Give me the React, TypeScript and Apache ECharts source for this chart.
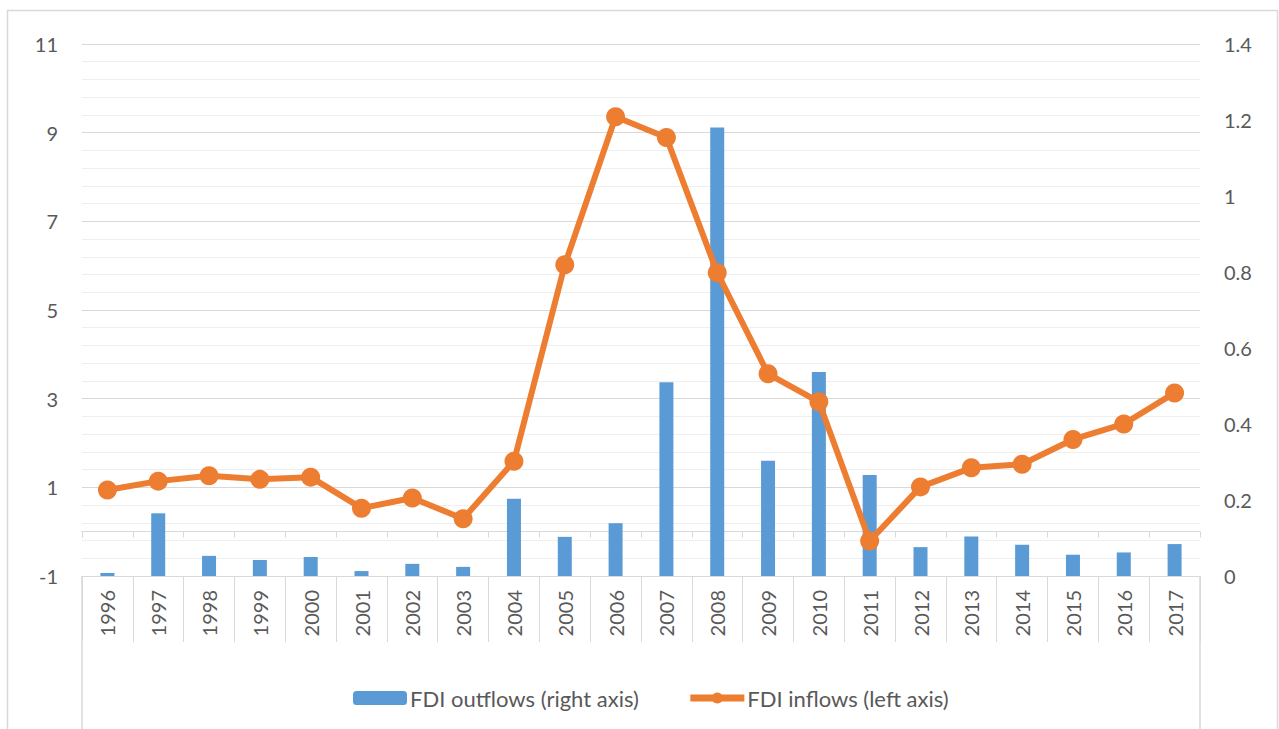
import React, { useEffect, useRef } from "react";
import * as echarts from "echarts";

const years = ["1996","1997","1998","1999","2000","2001","2002","2003","2004","2005","2006","2007","2008","2009","2010","2011","2012","2013","2014","2015","2016","2017"];
const outflows = [0.008,0.165,0.053,0.042,0.05,0.013,0.032,0.024,0.203,0.103,0.139,0.51,1.18,0.303,0.537,0.266,0.076,0.104,0.082,0.056,0.062,0.084];
const inflows = [0.94,1.14,1.26,1.18,1.23,0.53,0.76,0.29,1.59,6.02,9.36,8.89,5.84,3.56,2.93,-0.21,1.01,1.44,1.52,2.08,2.43,3.13];

const FONT = "Lato";
const TXT = "#595959";
const GRID = "#d9d9d9";

export default function App() {
  const ref = useRef<HTMLDivElement>(null);
  useEffect(() => {
    const chart = echarts.init(ref.current!, null, { renderer: "svg" });
    chart.setOption({
      animation: false,
      backgroundColor: "#ffffff",
      textStyle: { fontFamily: FONT },
      grid: { left: 82, right: 79, top: 44, bottom: 153, containLabel: false },
      legend: {
        data: [
          { name: "FDI outflows (right axis)" },
          { name: "FDI inflows (left axis)", lineStyle: { width: 7 }, itemStyle: { color: "#ED7D31" } },
        ],
        top: 682,
        left: 348,
        itemWidth: 54,
        itemHeight: 14,
        itemGap: 48,
        textStyle: { color: TXT, fontSize: 22, fontFamily: FONT, padding: [0, 0, 0, -2] },
      },
      xAxis: [
        {
          type: "category",
          data: years,
          position: "bottom",
          boundaryGap: true,
          axisLine: { onZero: false, show: true, lineStyle: { color: GRID } },
          axisTick: { show: true, length: 66, interval: 0, lineStyle: { color: GRID } },
          axisLabel: { rotate: 90, margin: 14, interval: 0, color: TXT, fontSize: 20, fontFamily: FONT },
          splitLine: { show: false },
        },
        {
          type: "category",
          data: years,
          position: "bottom",
          boundaryGap: true,
          axisLine: { onZero: true, onZeroAxisIndex: 0, show: true, lineStyle: { color: GRID } },
          axisTick: { show: true, length: 6, interval: 0, lineStyle: { color: GRID } },
          axisLabel: { show: false },
          splitLine: { show: false },
        },
      ],
      yAxis: [
        {
          type: "value",
          min: -1,
          max: 11,
          interval: 2,
          axisLine: { show: false },
          axisTick: { show: false },
          axisLabel: { margin: 24, color: TXT, fontSize: 20, fontFamily: FONT },
          splitLine: { show: true, lineStyle: { color: GRID, width: 1 } },
          minorTick: { show: false, splitNumber: 5 },
          minorSplitLine: { show: true, lineStyle: { color: "#efefef", width: 1 } },
        },
        {
          type: "value",
          min: 0,
          max: 1.4,
          interval: 0.2,
          position: "right",
          axisLine: { show: false },
          axisTick: { show: false },
          axisLabel: { margin: 24, color: TXT, fontSize: 20, fontFamily: FONT },
          splitLine: { show: false },
        },
      ],
      series: [
        {
          name: "FDI outflows (right axis)",
          type: "bar",
          xAxisIndex: 0,
          yAxisIndex: 1,
          data: outflows,
          barWidth: 14,
          itemStyle: { color: "#5B9BD5" },
        },
        {
          name: "FDI inflows (left axis)",
          type: "line",
          xAxisIndex: 0,
          yAxisIndex: 0,
          data: inflows,
          symbol: "circle",
          symbolSize: 19,
          lineStyle: { color: "#ED7D31", width: 6 },
          itemStyle: { color: "#ED7D31" },
          z: 5,
        },
      ],
      graphic: [
        {
          type: "rect",
          shape: { x: 7.5, y: 10.5, width: 1270, height: 740 },
          style: { fill: "none", stroke: GRID, lineWidth: 1.5 },
          silent: true,
          z: -1,
        },
        {
          type: "line",
          shape: { x1: 82, y1: 576, x2: 82, y2: 729 },
          style: { stroke: GRID, lineWidth: 1.5 },
          silent: true,
        },
        {
          type: "line",
          shape: { x1: 1200, y1: 576, x2: 1200, y2: 729 },
          style: { stroke: GRID, lineWidth: 1.5 },
          silent: true,
        },
      ],
    });
    return () => chart.dispose();
  }, []);
  return (
    <div
      ref={ref}
      style={{ position: "fixed", left: 0, top: 0, width: 1279, height: 729, background: "#fff" }}
    />
  );
}
